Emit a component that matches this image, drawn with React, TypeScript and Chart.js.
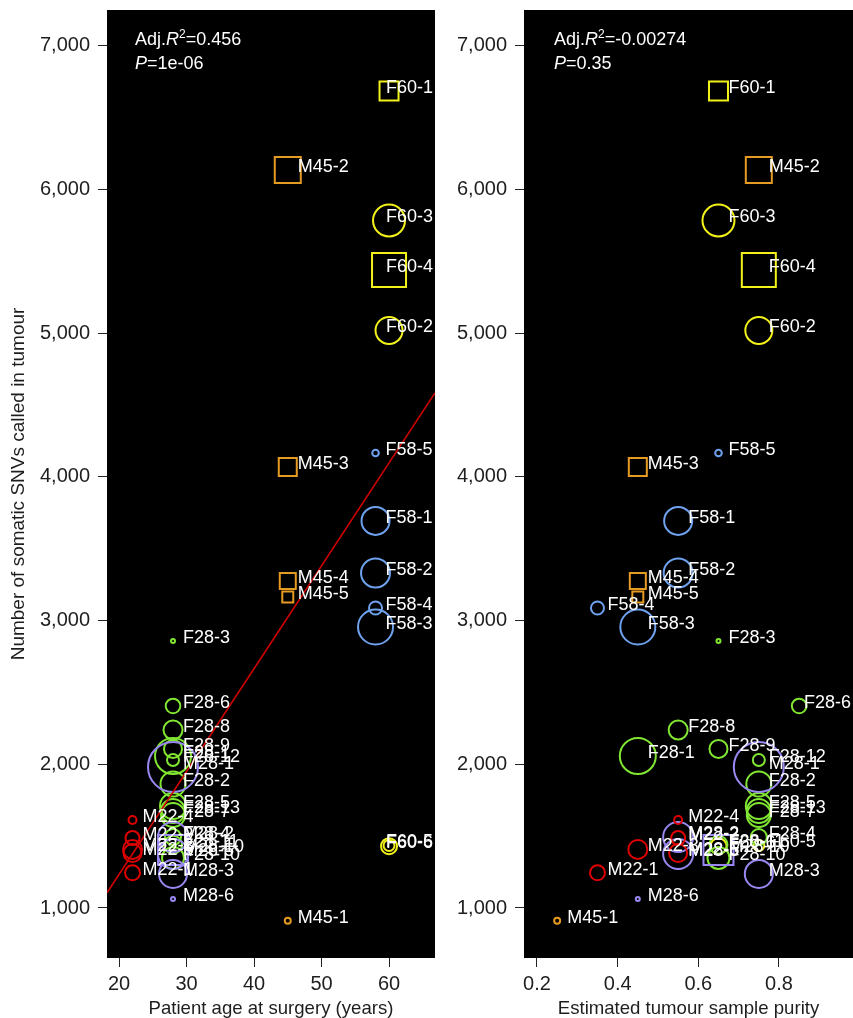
import React, { useEffect, useRef } from 'react';
import { Chart, registerables } from 'chart.js';
Chart.register(...registerables);

// ---------------- DATA ----------------
const sampleNames = [
  'M22-1', 'M22-2', 'M22-3', 'M22-4', 'M22-5',
  'M28-1', 'M28-2', 'M28-3', 'M28-5', 'M28-6', 'M28-10',
  'F28-1', 'F28-2', 'F28-3', 'F28-4', 'F28-5', 'F28-6', 'F28-7', 'F28-8', 'F28-9', 'F28-10', 'F28-11', 'F28-12', 'F28-13',
  'M45-1', 'M45-2', 'M45-3', 'M45-4', 'M45-5',
  'F58-1', 'F58-2', 'F58-3', 'F58-4', 'F58-5',
  'F60-1', 'F60-2', 'F60-3', 'F60-4', 'F60-5', 'F60-6',
];
const sampleGroup = [
  0, 0, 0, 0, 0,
  1, 1, 1, 1, 1, 1,
  2, 2, 2, 2, 2, 2, 2, 2, 2, 2, 2, 2, 2,
  3, 3, 3, 3, 3,
  4, 4, 4, 4, 4,
  5, 5, 5, 5, 5, 5,
];
const groupNames = ['M22', 'M28', 'F28', 'M45', 'F58', 'F60'];
const groupAge = [22, 28, 28, 45, 58, 60];
const snvCounts = [
  1245, 1487, 1408, 1613, 1383,
  1982, 1494, 1237, 1376, 1063, 1404,
  2058, 1863, 2859, 1494, 1710, 2406, 1647, 2239, 2107, 1348, 1440, 2030, 1675,
  912, 6137, 4070, 3276, 3165,
  3694, 3332, 2956, 3088, 4167,
  6687, 5020, 5785, 5440, 1435, 1430,
];
const tumourPurity = [
  0.35, 0.55, 0.45, 0.55, 0.55,
  0.75, 0.55, 0.75, 0.55, 0.45, 0.65,
  0.45, 0.75, 0.65, 0.75, 0.75, 0.85, 0.75, 0.55, 0.65, 0.65, 0.65, 0.75, 0.75,
  0.25, 0.75, 0.45, 0.45, 0.45,
  0.55, 0.55, 0.45, 0.35, 0.65,
  0.65, 0.75, 0.65, 0.75, 0.75, 0.65,
];
// marker size value (circle radius / half side of square)
const markerSize = [
  7.5, 7, 9.5, 4, 9,
  25, 15, 14, 15, 2, 15,
  18, 12.5, 2, 8, 13, 7.3, 12, 9.5, 9, 11, 9, 6, 12,
  3, 13, 9, 8, 5.5,
  14, 14.5, 17.5, 6.5, 3.3,
  9.5, 13.5, 16, 17, 5.5, 8,
];
// c = circle, s = square
const markerShape = [
  'c', 'c', 'c', 'c', 'c',
  'c', 'c', 'c', 'c', 'c', 's',
  'c', 'c', 'c', 'c', 'c', 'c', 'c', 'c', 'c', 'c', 'c', 'c', 'c',
  'c', 's', 's', 's', 's',
  'c', 'c', 'c', 'c', 'c',
  's', 'c', 'c', 's', 'c', 'c',
];
const yTicks = [1000, 2000, 3000, 4000, 5000, 6000, 7000];
const ageTicks = [20, 30, 40, 50, 60];
const purityTicks = [0.2, 0.4, 0.6, 0.8];
const fitIntercept = -198;
const fitSlope = 71.6;
const ageStatR2 = '0.456';
const ageStatP = '1e-06';
const purityStatR2 = '-0.00274';
const purityStatP = '0.35';

// ---------------- STYLE ----------------
const groupColors = ['#e00000', '#9a88f2', '#80e632', '#e59a22', '#6fa2ee', '#f2f21a'];
const FONT = "'Liberation Sans', Arial, Helvetica, sans-serif";
const TEXT = '#1e1e1e';

const bgPlugin = {
  id: 'blackBg',
  beforeDraw(chart: any) {
    const { ctx, chartArea } = chart;
    ctx.save();
    ctx.fillStyle = '#fff';
    ctx.fillRect(0, 0, chart.width, chart.height);
    ctx.fillStyle = '#000';
    ctx.fillRect(chartArea.left, chartArea.top, chartArea.right - chartArea.left, chartArea.bottom - chartArea.top);
    ctx.restore();
  },
};

const labelPlugin = {
  id: 'pointLabels',
  afterDatasetsDraw(chart: any) {
    const { ctx, chartArea } = chart;
    ctx.save();
    ctx.beginPath();
    ctx.rect(chartArea.left, chartArea.top, chartArea.right - chartArea.left, chartArea.bottom - chartArea.top);
    ctx.clip();
    ctx.font = `18px ${FONT}`;
    ctx.fillStyle = '#fff';
    ctx.textAlign = 'left';
    ctx.textBaseline = 'middle';
    chart.data.datasets.forEach((ds: any, di: number) => {
      if (!ds.names) return;
      const meta = chart.getDatasetMeta(di);
      meta.data.forEach((el: any, j: number) => {
        const t = ds.names[j];
        const w = ctx.measureText(t).width;
        let x = el.x + 10;
        if (x + w > chartArea.right - 2) x = chartArea.right - 2 - w;
        ctx.fillText(t, x, el.y - 3);
      });
    });
    ctx.restore();
  },
};

function statsPlugin(x: number, r2: string, p: string) {
  return {
    id: 'stats',
    afterDraw(chart: any) {
      const { ctx } = chart;
      ctx.save();
      ctx.fillStyle = '#fff';
      ctx.textAlign = 'left';
      ctx.textBaseline = 'alphabetic';
      let cx = x;
      const seg = (t: string, font: string, y: number) => {
        ctx.font = font;
        ctx.fillText(t, cx, y);
        cx += ctx.measureText(t).width;
      };
      const N = `18px ${FONT}`;
      const I = `italic 18px ${FONT}`;
      const S = `12px ${FONT}`;
      seg('Adj.', N, 45);
      seg('R', I, 45);
      seg('2', S, 38);
      seg('=' + r2, N, 45);
      cx = x;
      seg('P', I, 69);
      seg('=' + p, N, 69);
      ctx.restore();
    },
  };
}

function makeConfig(opts: {
  xOf: (i: number) => number;
  xMin: number;
  xMax: number;
  xTicks: number[];
  xTitle: string;
  yTitle: string | null;
  yWidth: number;
  padRight: number;
  withFit: boolean;
  statsX: number;
  r2: string;
  p: string;
}) {
  const datasets: any[] = [];
  if (opts.withFit) {
    datasets.push({
      type: 'line',
      label: 'fit',
      data: [
        { x: opts.xMin, y: fitIntercept + fitSlope * opts.xMin },
        { x: opts.xMax, y: fitIntercept + fitSlope * opts.xMax },
      ],
      borderColor: '#d20000',
      borderWidth: 1.6,
      pointRadius: 0,
      pointHoverRadius: 0,
      fill: false,
      tension: 0,
    });
  }
  groupNames.forEach((g, gi) => {
    const idx = sampleNames.map((_, i) => i).filter((i) => sampleGroup[i] === gi);
    const radii = idx.map((i) => (markerShape[i] === 's' ? markerSize[i] * Math.SQRT2 : markerSize[i]));
    datasets.push({
      type: 'scatter',
      label: g,
      names: idx.map((i) => sampleNames[i]),
      data: idx.map((i) => ({ x: opts.xOf(i), y: snvCounts[i] })),
      pointStyle: idx.map((i) => (markerShape[i] === 's' ? 'rect' : 'circle')),
      pointRadius: radii,
      pointHoverRadius: radii,
      pointBorderColor: groupColors[gi],
      pointBackgroundColor: 'rgba(0,0,0,0)',
      pointBorderWidth: 2,
      pointHoverBorderWidth: 2,
      showLine: false,
    });
  });

  const tickGrid = { drawOnChartArea: false, drawTicks: true, tickLength: 9, color: '#222', lineWidth: 1 };
  return {
    type: 'scatter',
    data: { datasets },
    options: {
      responsive: false,
      animation: false,
      devicePixelRatio: 1,
      events: [],
      layout: { autoPadding: false, padding: { top: 10, right: opts.padRight, left: 0, bottom: 0 } },
      plugins: { legend: { display: false }, tooltip: { enabled: false } },
      scales: {
        x: {
          type: 'linear',
          min: opts.xMin,
          max: opts.xMax,
          afterBuildTicks: (s: any) => {
            s.ticks = opts.xTicks.map((v) => ({ value: v }));
          },
          afterFit: (s: any) => {
            s.height = 60;
            s.paddingLeft = 0;
            s.paddingRight = 0;
          },
          grid: tickGrid,
          border: { display: false },
          ticks: {
            font: { family: FONT, size: 20 },
            color: TEXT,
            padding: 5,
            maxRotation: 0,
            autoSkip: false,
            callback: (v: any) => String(v),
          },
          title: {
            display: true,
            text: opts.xTitle,
            font: { family: FONT, size: 18.6, lineHeight: 1 },
            color: TEXT,
            padding: 0,
          },
        },
        y: {
          type: 'linear',
          min: 652,
          max: 7250,
          afterBuildTicks: (s: any) => {
            s.ticks = yTicks.map((v) => ({ value: v }));
          },
          afterFit: (s: any) => {
            s.width = opts.yWidth;
            s.paddingTop = 0;
            s.paddingBottom = 0;
          },
          grid: tickGrid,
          border: { display: false },
          ticks: {
            font: { family: FONT, size: 20 },
            color: TEXT,
            padding: 8,
            autoSkip: false,
            callback: (v: any) => Number(v).toLocaleString('en-US'),
          },
          title: {
            display: !!opts.yTitle,
            text: opts.yTitle || '',
            font: { family: FONT, size: 19, lineHeight: 1 },
            color: TEXT,
            padding: { top: 9, bottom: 0 },
          },
        },
      },
    },
    plugins: [bgPlugin, labelPlugin, statsPlugin(opts.statsX, opts.r2, opts.p)],
  } as any;
}

export default function App() {
  const leftRef = useRef<HTMLCanvasElement>(null);
  const rightRef = useRef<HTMLCanvasElement>(null);

  useEffect(() => {
    const left = new Chart(
      leftRef.current as HTMLCanvasElement,
      makeConfig({
        xOf: (i) => groupAge[sampleGroup[i]],
        xMin: 18.22,
        xMax: 66.81,
        xTicks: ageTicks,
        xTitle: 'Patient age at surgery (years)',
        yTitle: 'Number of somatic SNVs called in tumour',
        yWidth: 107,
        padRight: 5,
        withFit: true,
        statsX: 135,
        r2: ageStatR2,
        p: ageStatP,
      })
    );
    const right = new Chart(
      rightRef.current as HTMLCanvasElement,
      makeConfig({
        xOf: (i) => tumourPurity[i],
        xMin: 0.1678,
        xMax: 0.9835,
        xTicks: purityTicks,
        xTitle: 'Estimated tumour sample purity',
        yTitle: null,
        yWidth: 84,
        padRight: 0,
        withFit: false,
        statsX: 114,
        r2: purityStatR2,
        p: purityStatP,
      })
    );
    return () => {
      left.destroy();
      right.destroy();
    };
  }, []);

  return (
    <div style={{ position: 'absolute', left: 0, top: 0, width: 853, height: 1018, background: '#fff' }}>
      <canvas ref={leftRef} width={440} height={1018} style={{ position: 'absolute', left: 0, top: 0 }} />
      <canvas ref={rightRef} width={413} height={1018} style={{ position: 'absolute', left: 440, top: 0 }} />
    </div>
  );
}
